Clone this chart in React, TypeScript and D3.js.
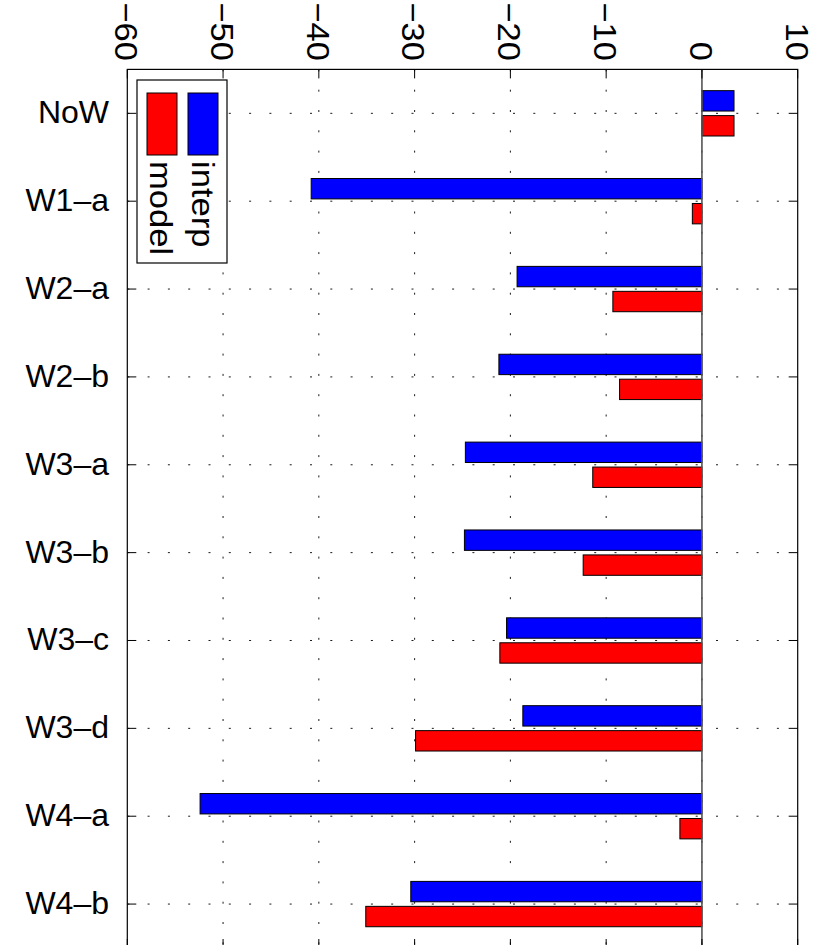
import React from "react";
import * as d3 from "d3";

// Category labels (top to bottom) and the two bar series
const categories = ["NoW", "W1–a", "W2–a", "W2–b", "W3–a", "W3–b", "W3–c", "W3–d", "W4–a", "W4–b"];
const interpValues = [3.35, -40.8, -19.3, -21.2, -24.7, -24.8, -20.4, -18.7, -52.4, -30.4];
const modelValues = [3.35, -1.0, -9.3, -8.6, -11.4, -12.4, -21.1, -29.9, -2.3, -35.1];
const valueTicks = [-60, -50, -40, -30, -20, -10, 0, 10];
const legendItems = [
  { name: "model", color: "#ff0000" },
  { name: "interp", color: "#0000ff" },
];

const W = 822;
const H = 945;
const FONT = "'Liberation Sans', Arial, Helvetica, sans-serif";

export default function App() {
  const x = d3.scaleLinear().domain([-60, 10]).range([127.3, 797.7]);
  const y = d3.scaleLinear().domain([0.5, categories.length + 0.5]).range([69.4, 948]);
  const unit = y(2) - y(1);
  const barW = 0.232 * unit;
  const barOff = 0.142 * unit;
  const x0 = x(0);
  const [left, right] = x.range();
  const [top, bottom] = y.range();

  const fmt = (v: number) => (v < 0 ? "−" + Math.abs(v) : String(v));

  const bars = (vals: number[], sign: number, color: string) =>
    vals.map((v, i) => {
      const cy = y(i + 1) + sign * barOff;
      const xa = Math.min(x(v), x0);
      const xb = Math.max(x(v), x0);
      return (
        <rect
          key={color + i}
          x={xa}
          y={cy - barW / 2}
          width={xb - xa}
          height={barW}
          fill={color}
          stroke="#000"
          strokeWidth={1}
        />
      );
    });

  return (
    <svg
      width={W}
      height={H}
      style={{ position: "absolute", left: 0, top: 0, background: "#fff" }}
      fontFamily={FONT}
    >
      <rect x={0} y={0} width={W} height={H} fill="#fff" />

      {/* dotted grid */}
      {valueTicks.slice(1, -1).map((t) => (
        <line
          key={"gx" + t}
          x1={x(t)}
          x2={x(t)}
          y1={top}
          y2={bottom}
          stroke="#000"
          strokeWidth={0.9}
          strokeDasharray="2 18.3"
        />
      ))}
      {categories.map((c, i) => (
        <line
          key={"gy" + c}
          x1={left}
          x2={right}
          y1={y(i + 1)}
          y2={y(i + 1)}
          stroke="#000"
          strokeWidth={0.9}
          strokeDasharray="2 18.3"
        />
      ))}

      {/* bars */}
      {bars(interpValues, -1, "#0000ff")}
      {bars(modelValues, 1, "#ff0000")}

      {/* bar baseline at zero */}
      <line x1={x0} x2={x0} y1={top} y2={bottom} stroke="#555" strokeWidth={1.6} />

      {/* axes box */}
      <rect x={left} y={top} width={right - left} height={bottom - top} fill="none" stroke="#000" strokeWidth={1.2} />

      {/* value ticks and rotated labels */}
      {valueTicks.map((t) => (
        <g key={"t" + t}>
          <line x1={x(t)} x2={x(t)} y1={top} y2={top + 9} stroke="#000" strokeWidth={1} />
          <line x1={x(t)} x2={x(t)} y1={bottom} y2={bottom - 9} stroke="#000" strokeWidth={1} />
          <text
            transform={`translate(${x(t)},61) rotate(90) scale(1.08,1)`}
            textAnchor="end"
            dy="0.38em"
            fontSize={32}
            fill="#000"
          >
            {fmt(t)}
          </text>
        </g>
      ))}

      {/* category ticks and labels */}
      {categories.map((c, i) => (
        <g key={"c" + c}>
          <line x1={left} x2={left + 9} y1={y(i + 1)} y2={y(i + 1)} stroke="#000" strokeWidth={1} />
          <line x1={right} x2={right - 9} y1={y(i + 1)} y2={y(i + 1)} stroke="#000" strokeWidth={1} />
          <text x={109} y={y(i + 1) + 10} textAnchor="end" fontSize={32} fill="#000">
            {c}
          </text>
        </g>
      ))}

      {/* legend */}
      <rect x={137} y={80} width={90} height={183} fill="#fff" stroke="#000" strokeWidth={1.2} />
      {legendItems.map((item, k) => {
        const lx = 147 + k * 41;
        return (
          <g key={item.name}>
            <rect x={lx} y={93} width={30} height={62} fill={item.color} stroke="#000" strokeWidth={1} />
            <text
              transform={`translate(${lx + 3 + k * 1},161) rotate(90) scale(1.08,1)`}
              fontSize={32}
              fill="#000"
            >
              {item.name}
            </text>
          </g>
        );
      })}
    </svg>
  );
}
